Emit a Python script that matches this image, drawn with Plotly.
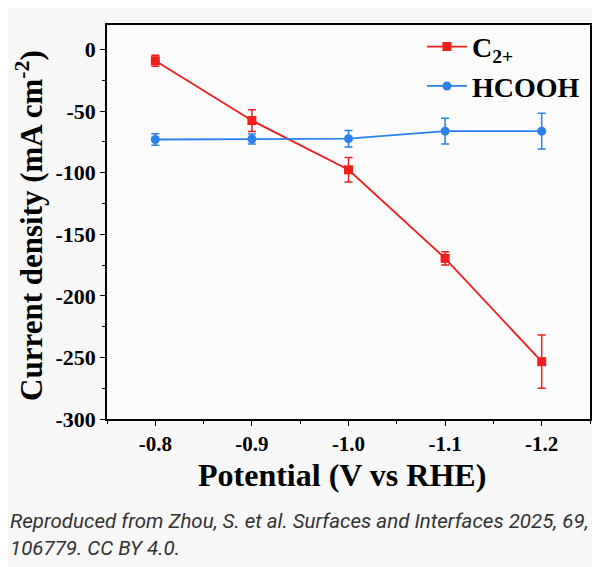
import plotly.graph_objects as go

potential = [-0.8, -0.9, -1.0, -1.1, -1.2]
c2_density = [-9, -57.6, -97.6, -169.5, -253.4]
c2_error = [4.5, 8.8, 10, 5.4, 21.6]
hcooh_density = [-73, -72.6, -72.3, -66.2, -66.2]
hcooh_error = [4.6, 4, 6.7, 10.5, 14.5]
x_labels = ["-0.8", "-0.9", "-1.0", "-1.1", "-1.2"]
y_ticks = [0, -50, -100, -150, -200, -250, -300]
y_labels = ["0", "-50", "-100", "-150", "-200", "-250", "-300"]

red = "#f21d1d"
blue = "#2b80ec"
serif = "Liberation Serif"

# page body has an 8px margin, so the figure is a bit smaller than the window
W, H = 592, 559
L, R, T, B = 99, 10, 17, 148
pw, ph = W - L - R, H - T - B

fig = go.Figure()
fig.add_trace(go.Scatter(
    x=potential, y=c2_density, mode="lines+markers", name="C<sub>2+</sub>",
    line=dict(color=red, width=1.8),
    marker=dict(symbol="square", size=9, color=red),
    error_y=dict(type="data", array=c2_error, color=red, thickness=1.5, width=4),
))
fig.add_trace(go.Scatter(
    x=potential, y=hcooh_density, mode="lines+markers", name="HCOOH",
    line=dict(color=blue, width=1.8),
    marker=dict(symbol="circle", size=9, color=blue),
    error_y=dict(type="data", array=hcooh_error, color=blue, thickness=1.5, width=4),
))

fig.update_layout(
    width=W, height=H,
    margin=dict(l=L, r=R, t=T, b=B),
    paper_bgcolor="#f7f7f7", plot_bgcolor="#fbfbfb",
    font=dict(family=serif, color="black"),
    showlegend=True,
    legend=dict(
        x=0.652, y=1.008, xanchor="left", yanchor="top",
        bgcolor="rgba(0,0,0,0)", font=dict(size=28, family=serif, weight="bold"),
        tracegroupgap=0, itemwidth=40,
    ),
)
fig.update_xaxes(
    range=[-0.75, -1.25], tickvals=potential, ticktext=x_labels,
    showgrid=False, zeroline=False, automargin=False,
    showline=True, linecolor="black", linewidth=1.5, mirror=True,
    ticks="outside", ticklen=5, tickwidth=1.3, tickcolor="black",
    minor=dict(ticks="outside", ticklen=3, dtick=0.05, tick0=-0.75, tickcolor="black"),
    tickfont=dict(size=21, family=serif, weight="bold"),
)
fig.update_yaxes(
    range=[-300, 20], tickvals=y_ticks, ticktext=y_labels,
    showgrid=False, zeroline=False, automargin=False,
    showline=True, linecolor="black", linewidth=1.5, mirror=True,
    ticks="outside", ticklen=5, tickwidth=1.3, tickcolor="black",
    minor=dict(ticks="outside", ticklen=3, dtick=25, tickcolor="black"),
    tickfont=dict(size=22, family=serif, weight="bold"),
)

# axis titles
fig.add_annotation(
    xref="paper", yref="paper", x=(334 - L) / pw, y=-(467 - (H - B)) / ph,
    xanchor="center", yanchor="middle", showarrow=False,
    text="<b>Potential (V vs RHE)</b>", font=dict(size=32, family=serif),
)
fig.add_annotation(
    xref="paper", yref="paper", x=(22 - L) / pw, y=0.49,
    xanchor="center", yanchor="middle", showarrow=False, textangle=-90,
    text="<b>Current density (mA cm<sup>-2</sup>)</b>", font=dict(size=31, family=serif),
)

fig.add_annotation(
    xref="paper", yref="paper", x=-L / pw, y=-(526 - (H - B)) / ph,
    xanchor="left", yanchor="middle", showarrow=False, align="left",
    text="<i>Reproduced from Zhou, S. et al. Surfaces and Interfaces 2025, 69,<br>106779. CC BY 4.0.</i>",
    font=dict(family="Roboto", size=20.5, color="#333333"),
)

fig.write_html("out.html")
